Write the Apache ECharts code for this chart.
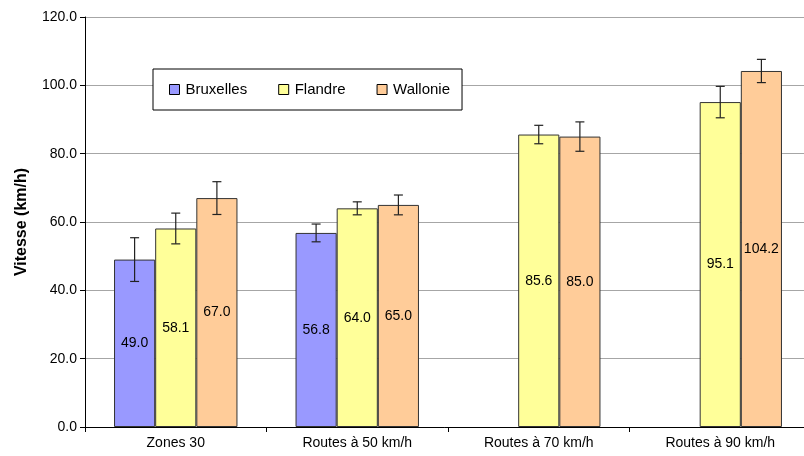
<!DOCTYPE html>
<html>
<head>
<meta charset="utf-8">
<script src="https://cdn.jsdelivr.net/npm/echarts@6/dist/echarts.min.js"></script>
<style>
  html, body { margin: 0; padding: 0; background: #fff; }
  #chart { width: 804px; height: 456px; }
</style>
</head>
<body>
<div id="chart"></div>
<script>
const categories = ['Zones 30', 'Routes à 50 km/h', 'Routes à 70 km/h', 'Routes à 90 km/h'];
const seriesNames = ['Bruxelles', 'Flandre', 'Wallonie'];
const bruxelles = [49.0, 56.8, null, null];
const flandre = [58.1, 64.0, 85.6, 95.1];
const wallonie = [67.0, 65.0, 85.0, 104.2];
// half-width of the error bars
const bruxellesErr = [6.4, 2.6, null, null];
const flandreErr = [4.5, 1.9, 2.7, 4.6];
const wallonieErr = [4.8, 2.9, 4.3, 3.4];
const colors = ['#9999FF', '#FFFF99', '#FFCC99'];

const values = [bruxelles, flandre, wallonie];
const errs = [bruxellesErr, flandreErr, wallonieErr];
const catGap = 0.32;

// one item per bar: [category, series, low, high]
const errData = [];
values.forEach((vals, s) => {
  vals.forEach((v, i) => {
    if (v == null) return;
    errData.push([i, s, v - errs[s][i], v + errs[s][i]]);
  });
});

const chart = echarts.init(document.getElementById('chart'));

const barSeries = values.map((vals, s) => ({
  name: seriesNames[s],
  type: 'bar',
  data: vals,
  barGap: 0,
  barCategoryGap: (catGap * 100) + '%',
  itemStyle: { color: colors[s], borderColor: '#333', borderWidth: 1 },
  label: {
    show: true,
    position: 'inside',
    color: '#000',
    fontSize: 14,
    fontFamily: 'Liberation Sans',
    formatter: p => p.value.toFixed(1)
  }
}));

chart.setOption({
  animation: false,
  textStyle: { fontFamily: 'Liberation Sans' },
  // plot runs a little past the right edge of the picture
  grid: { left: 85, width: 726, top: 17, bottom: 29, outerBoundsMode: 'none' },
  legend: {
    data: seriesNames,
    left: 153,
    top: 69,
    padding: [13, 12, 13, 16],
    itemGap: 31,
    itemWidth: 10,
    itemHeight: 10,
    icon: 'rect',
    backgroundColor: '#fff',
    borderColor: '#000',
    borderWidth: 1,
    borderRadius: 0,
    itemStyle: { borderColor: '#000', borderWidth: 1 },
    textStyle: { fontSize: 15, color: '#000', fontFamily: 'Liberation Sans', padding: [0, 0, 0, 1] }
  },
  xAxis: {
    type: 'category',
    data: categories,
    axisLine: { lineStyle: { color: '#000', width: 1 } },
    axisTick: { show: true, length: 5, lineStyle: { color: '#000' } },
    axisLabel: { color: '#000', fontSize: 14, margin: 9 }
  },
  yAxis: {
    type: 'value',
    min: 0,
    max: 120,
    interval: 20,
    name: 'Vitesse (km/h)',
    nameLocation: 'middle',
    nameGap: 55,
    nameTextStyle: { fontSize: 16, fontWeight: 'bold', color: '#000' },
    axisLine: { show: true, lineStyle: { color: '#000', width: 1 } },
    axisTick: { show: true, length: 5, lineStyle: { color: '#000' } },
    axisLabel: { color: '#000', fontSize: 14, margin: 8, formatter: v => v.toFixed(1) },
    splitLine: { lineStyle: { color: '#a6a6a6', width: 1 } }
  },
  series: barSeries.concat([{
    type: 'custom',
    z: 10,
    silent: true,
    data: errData,
    encode: { x: 0, y: [2, 3] },
    renderItem: (params, api) => {
      const cat = api.value(0);
      const s = api.value(1);
      const band = api.size([1, 0])[0];
      const bw = band * (1 - catGap) / 3;
      const lo = api.coord([cat, api.value(2)]);
      const hi = api.coord([cat, api.value(3)]);
      const x = lo[0] + (s - 1) * bw;
      const cap = 4.5;
      const style = { stroke: '#222', lineWidth: 1.2 };
      return {
        type: 'group',
        children: [
          { type: 'line', shape: { x1: x, y1: lo[1], x2: x, y2: hi[1] }, style },
          { type: 'line', shape: { x1: x - cap, y1: lo[1], x2: x + cap, y2: lo[1] }, style },
          { type: 'line', shape: { x1: x - cap, y1: hi[1], x2: x + cap, y2: hi[1] }, style }
        ]
      };
    }
  }])
});
</script>
</body>
</html>
